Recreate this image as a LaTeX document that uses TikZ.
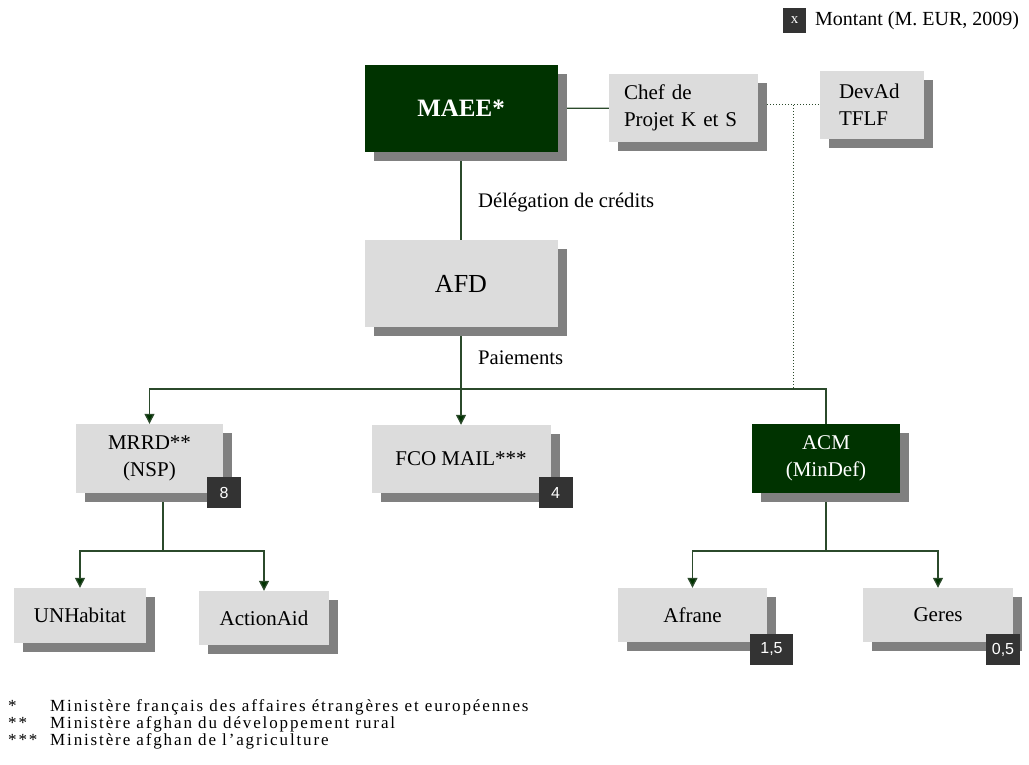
\documentclass[tikz,border=0pt]{standalone}
\usepackage{fontspec}
\setmainfont{Liberation Serif}
\newfontfamily\badgefont{Liberation Sans}
\newfontfamily\notefont[LetterSpace=11]{Liberation Serif}
\usepackage{tikz}
\usetikzlibrary{arrows.meta,shadows,backgrounds}
\definecolor{darkgreen}{HTML}{003300}
\definecolor{linegreen}{HTML}{2B4A2B}
\definecolor{boxgray}{HTML}{DCDCDC}
\definecolor{shadegray}{HTML}{808080}
\definecolor{badgegray}{HTML}{333333}

\tikzset{
  box/.style={fill=boxgray, inner sep=0pt, align=center,
    font=\fontsize{21}{27}\selectfont,
    drop shadow={shadow xshift=9pt, shadow yshift=-9pt, fill=shadegray, opacity=1}},
  darkbox/.style={box, fill=darkgreen, text=white},
  badge/.style={fill=badgegray, text=white, inner sep=0pt,
    font=\badgefont\fontsize{16}{16}\selectfont},
  lbl/.style={anchor=west, inner sep=0pt, font=\fontsize{20.7}{22}\selectfont},
  note/.style={anchor=base west, inner sep=0pt, font=\notefont\fontsize{17}{17}\selectfont},
  link/.style={draw=linegreen, line width=1.3pt},
  arr/.style={link, -{Triangle[width=10pt,length=10pt,fill=darkgreen]}},
  dotline/.style={draw=linegreen, line width=1pt, dash pattern=on 1pt off 2pt}
}

\begin{document}
\begin{tikzpicture}[x=1pt,y=-1pt]
\useasboundingbox (0,0) rectangle (1029,765);

% legend
\node[badge, minimum width=23pt, minimum height=25pt, font=\fontsize{15}{15}\selectfont] (lgx) at (794.5,20.5) {x};
\node[lbl, font=\fontsize{20}{22}\selectfont] (lgtext) at (815,21) {Montant (M. EUR, 2009)};

% top level
\node[darkbox, minimum width=193pt, minimum height=87pt, font=\bfseries\fontsize{25}{30}\selectfont] (maee) at (461,108.5) {MAEE*};
\node[box, minimum width=149pt, minimum height=68pt, text width=119pt, align=left] (chef) at (683.5,108) {Chef de\\Projet K et S};
\node[box, minimum width=104pt, minimum height=68pt, text width=66pt, align=left] (devad) at (872,105) {DevAd\\TFLF};
\node[box, minimum width=193pt, minimum height=87pt, font=\fontsize{26}{30}\selectfont] (afd) at (461,283.5) {AFD};

\node[lbl] (deleg) at (478,203) {Délégation de crédits};
\node[lbl] (paie) at (478,358) {Paiements};

% second level
\node[box, minimum width=147pt, minimum height=69pt] (mrrd) at (149.5,458.5) {MRRD**\\(NSP)};
\node[box, minimum width=179pt, minimum height=68pt] (fco) at (461,459) {FCO MAIL***};
\node[darkbox, minimum width=148pt, minimum height=69pt] (acm) at (826,458.5) {ACM\\(MinDef)};

% third level
\node[box, minimum width=132pt, minimum height=55pt] (unhab) at (80,615.5) {UNHabitat};
\node[box, minimum width=130pt, minimum height=54pt] (actaid) at (264,618) {ActionAid};
\node[box, minimum width=149pt, minimum height=54pt] (afrane) at (692.5,615) {Afrane};
\node[box, minimum width=150pt, minimum height=54pt] (geres) at (938,615) {Geres};

% amounts
\node[badge, minimum width=34pt, minimum height=31pt] (b8) at (224,492.5) {8};
\node[badge, minimum width=34pt, minimum height=31pt] (b4) at (555.5,492.5) {4};
\node[badge, minimum width=43pt, minimum height=31pt] (b15) at (771.5,649.5) {1,5};
\node[badge, minimum width=34pt, minimum height=31pt] (b05) at (1003,649.5) {0,5};

% junctions
\coordinate (pj) at (461,389);
\coordinate (mj) at (163,551);
\coordinate (aj) at (826,551);
\coordinate (cs) at (767,105);
\coordinate (dj) at (793,105);

\begin{scope}[on background layer]
\draw[link] (maee) -- (chef);
\draw[link] (maee) -- (afd);
\draw[link] (afd) -- (pj);
\draw[arr] (pj) -| (mrrd.north);
\draw[arr] (pj) -- (fco.north);
\draw[link] (pj) -| (acm.north);
\draw[link] (mrrd.south -| mj) -- (mj);
\draw[arr] (mj) -| (unhab.north);
\draw[arr] (mj) -| (actaid.north);
\draw[link] (acm) -- (aj);
\draw[arr] (aj) -| (afrane.north);
\draw[arr] (aj) -| (geres.north);
\end{scope}
\draw[dotline] (cs) -- (devad.west);
\draw[dotline] (dj) -- (dj |- pj);

% footnotes
\node[note] (s1) at (8,711) {*};
\node[note] (n1) at (50,711) {Ministère français des affaires étrangères et européennes};
\node[note] (s2) at (8,728) {**};
\node[note] (n2) at (50,728) {Ministère afghan du développement rural};
\node[note] (s3) at (8,745) {***};
\node[note] (n3) at (50,745) {Ministère afghan de l’agriculture};
\end{tikzpicture}
\end{document}
